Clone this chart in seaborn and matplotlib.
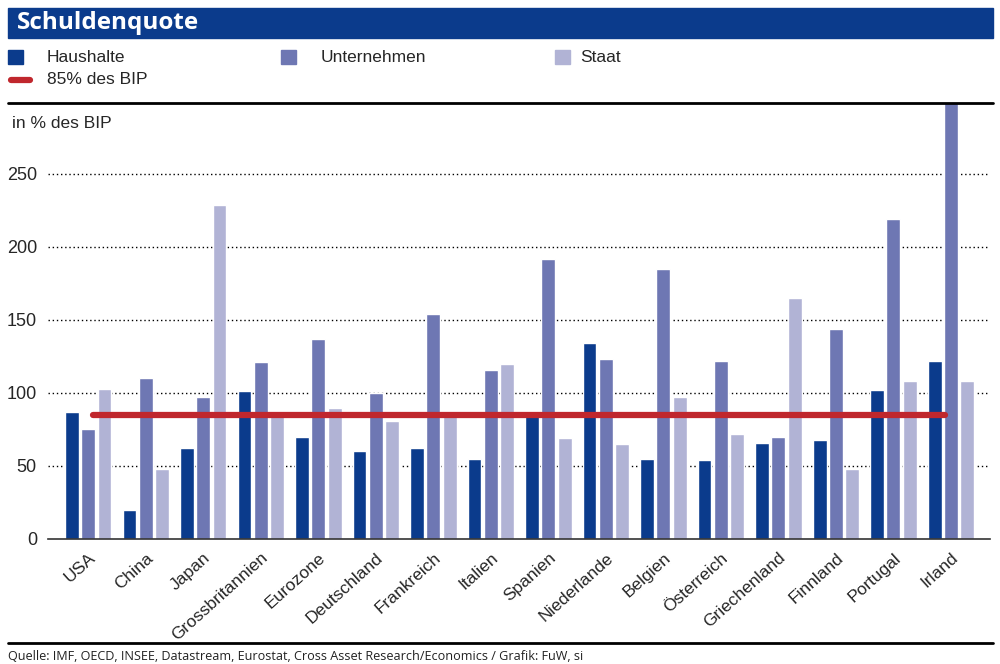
import matplotlib
matplotlib.use("Agg")
import matplotlib.pyplot as plt
import seaborn as sns
import pandas as pd
from matplotlib.patches import Rectangle
from matplotlib.lines import Line2D

laender = [
    "USA", "China", "Japan", "Grossbritannien", "Eurozone", "Deutschland",
    "Frankreich", "Italien", "Spanien", "Niederlande", "Belgien",
    "Österreich", "Griechenland", "Finnland", "Portugal", "Irland",
]
haushalte = [87, 20, 62, 101, 70, 60, 62, 55, 85, 134, 55, 54, 66, 68, 102, 122]
unternehmen = [75, 110, 97, 121, 137, 100, 154, 116, 192, 123, 185, 122, 70, 144, 219, 310]
staat = [103, 48, 229, 84, 90, 81, 84, 120, 69, 65, 97, 72, 165, 48, 108, 108]
serien = ["Haushalte", "Unternehmen", "Staat"]
schwelle = 85
yticks = [0, 50, 100, 150, 200, 250]

farben = {"Haushalte": "#0B3B8C", "Unternehmen": "#6E77B3", "Staat": "#B1B3D5"}
rot = "#C0272D"
blau_balken = "#0B3B8C"

sns.set_theme(style="white")
plt.rcParams["font.family"] = ["Liberation Sans", "DejaVu Sans"]

df = pd.DataFrame({
    "Land": laender * 3,
    "Wert": haushalte + unternehmen + staat,
    "Typ": [s for s in serien for _ in laender],
})

fig = plt.figure(figsize=(10, 6.64), dpi=100)
ax = fig.add_axes([0.048, 0.1883, 0.942, 0.6566])

sns.barplot(data=df, x="Land", y="Wert", hue="Typ", hue_order=serien,
            palette=farben, width=0.85, gap=0.15, saturation=1,
            legend=False, ax=ax)

# 85%-Linie
ax.hlines(schwelle, 0.08, 14.9, color=rot, lw=4.5, capstyle="round", zorder=5)

ax.set_xlim(-0.7, 15.68)
ax.set_ylim(0, 298.6)
ax.set_yticks(yticks)
ax.set_yticklabels([str(t) for t in yticks], fontsize=13)
for t in yticks[1:]:
    ax.axhline(t, color="black", lw=1, ls=(0, (1, 2)), zorder=0)
ax.set_xlabel("")
ax.set_ylabel("")
ax.tick_params(axis="both", length=0)
ax.tick_params(axis="y", pad=8)
plt.setp(ax.get_xticklabels(), rotation=42, ha="right", rotation_mode="anchor",
         fontsize=12.5)
ax.tick_params(axis="x", pad=8)
for s in ["top", "right", "left"]:
    ax.spines[s].set_visible(False)
ax.spines["bottom"].set_color("#333333")
ax.spines["bottom"].set_linewidth(1.2)

# Kopfzeile
fig.patches.append(Rectangle((0.008, 0.9428), 0.985, 0.0452, transform=fig.transFigure,
                             color=blau_balken, zorder=0))
fig.text(0.017, 0.965, "Schuldenquote", color="white", fontsize=17.5, fontweight="bold",
         va="center", family=["Open Sans", "DejaVu Sans"])

# Legende
leg_y = 1 - 57 / 664
for x_box, x_txt, name in [(0.008, 0.047, "Haushalte"), (0.281, 0.321, "Unternehmen"),
                           (0.555, 0.580, "Staat")]:
    fig.patches.append(Rectangle((x_box, leg_y - 0.011), 0.015, 0.022,
                                 transform=fig.transFigure, color=farben[name]))
    fig.text(x_txt, leg_y, name, fontsize=12.5, va="center")
y2 = 1 - 80 / 664
fig.lines.append(Line2D([0.011, 0.030], [y2, y2], transform=fig.transFigure,
                        color=rot, lw=4.5, solid_capstyle="round"))
fig.text(0.047, y2, "85% des BIP", fontsize=12.5, va="center")

# Trennlinien
fig.lines.append(Line2D([0.008, 0.993], [1 - 103 / 664] * 2, transform=fig.transFigure,
                        color="black", lw=2))
fig.lines.append(Line2D([0.008, 0.993], [1 - 643 / 664] * 2, transform=fig.transFigure,
                        color="black", lw=2))
fig.text(0.012, 1 - 124 / 664, "in % des BIP", fontsize=12.5, va="center")
fig.text(0.008, 1 - 656 / 664,
         "Quelle: IMF, OECD, INSEE, Datastream, Eurostat, Cross Asset Research/Economics / Grafik: FuW, si",
         fontsize=9.1, va="center", color="#222222", family=["Open Sans", "DejaVu Sans"])

fig.savefig("out.png", dpi=100)
